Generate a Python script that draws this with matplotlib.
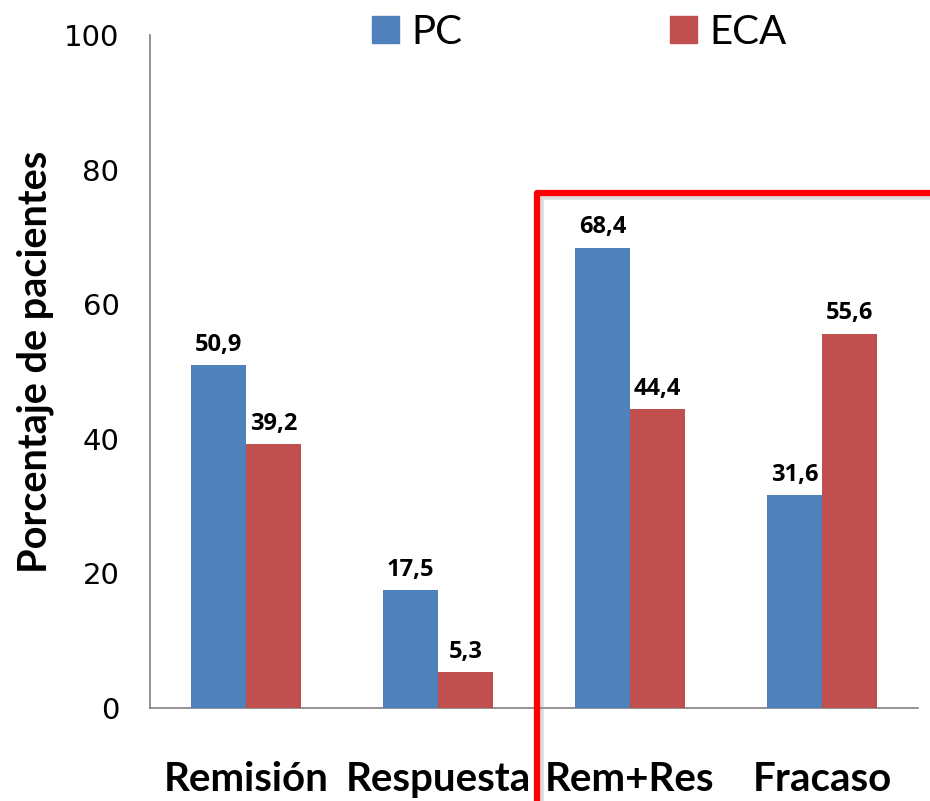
import matplotlib
matplotlib.use("Agg")
import matplotlib.pyplot as plt
from matplotlib.lines import Line2D
from matplotlib.patches import Rectangle
import numpy as np

categories = ["Remisión", "Respuesta", "Rem+Res", "Fracaso"]
pc_values = [50.9, 17.5, 68.4, 31.6]
eca_values = [39.2, 5.3, 44.4, 55.6]
series_names = ["PC", "ECA"]
y_ticks = [0, 20, 40, 60, 80, 100]

BLUE = "#4F81BD"
RED = "#C0504D"
NARROW = ["Lato", "DejaVu Sans"]

fig = plt.figure(figsize=(9.3, 8.01), dpi=100)
ax = fig.add_axes([150 / 930, 1 - 708 / 801, 768 / 930, 673 / 801])

x = np.arange(len(categories))
w = 0.286
bars_pc = ax.bar(x - w / 2, pc_values, w, color=BLUE, zorder=3)
bars_eca = ax.bar(x + w / 2, eca_values, w, color=RED, zorder=3)

for bars, vals in ((bars_pc, pc_values), (bars_eca, eca_values)):
    for b, v in zip(bars, vals):
        ax.annotate(f"{v:.1f}".replace(".", ","),
                    (b.get_x() + b.get_width() / 2, v),
                    xytext=(0, 6), textcoords="offset points",
                    ha="center", va="bottom", fontsize=17,
                    fontweight="bold", family=["Open Sans", "DejaVu Sans"])

ax.set_xlim(-0.5, len(categories) - 0.5)
ax.set_ylim(0, 100)
ax.set_yticks(y_ticks)
ax.set_yticklabels([str(t) for t in y_ticks], fontsize=21, family="DejaVu Sans")
ax.set_xticks(x)
ax.set_xticklabels(categories, fontsize=29, fontweight="bold", family=NARROW)
ax.tick_params(axis="both", length=0)
ax.tick_params(axis="y", pad=22)
ax.tick_params(axis="x", pad=38)

for side in ("top", "right"):
    ax.spines[side].set_visible(False)
for side in ("left", "bottom"):
    ax.spines[side].set_color("#808080")
    ax.spines[side].set_linewidth(1.2)

ax.set_ylabel("Porcentaje de pacientes", fontsize=28.5, fontweight="bold",
              family=NARROW)
ax.yaxis.set_label_coords(-0.125, 0.514)

# legend across the top
handles = [Rectangle((0, 0), 1, 1, color=BLUE), Rectangle((0, 0), 1, 1, color=RED)]
leg = fig.legend(handles, series_names, loc="upper center",
                 bbox_to_anchor=(579 / 930, 1.008), ncol=2, frameon=False,
                 prop={"family": NARROW, "size": 29},
                 handlelength=0.68, handleheight=0.68, handletextpad=0.3,
                 columnspacing=5.15, borderaxespad=0.1)

# red frame highlighting the combined outcomes
x0, y0 = 537 / 930, 1 - 193 / 801
shadow = Line2D([x0 + 0.004, x0 + 0.004, 1.02], [-0.02, y0 - 0.005, y0 - 0.005],
                transform=fig.transFigure, color="#999999", lw=4, alpha=0.35,
                solid_joinstyle="round", zorder=9)
frame = Line2D([x0, x0, 1.02], [-0.02, y0, y0], transform=fig.transFigure,
               color="#FF0000", lw=4.5, solid_joinstyle="round", zorder=10)
fig.add_artist(shadow)
fig.add_artist(frame)

fig.savefig("out.png", dpi=100)
